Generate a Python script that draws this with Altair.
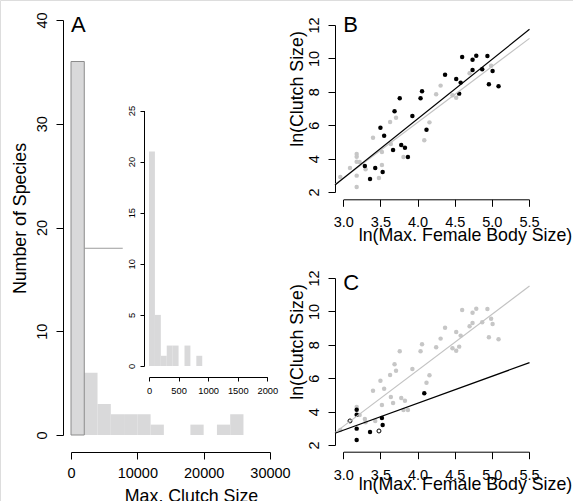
import altair as alt
import pandas as pd

FONT = "Liberation Sans"

# ---------------- Panel A: histogram of maximum clutch size ----------------
hist_start = [0, 2000, 4000, 6000, 8000, 10000, 12000, 14000, 16000, 18000, 20000, 22000, 24000]
hist_count = [36, 6, 3, 2, 2, 2, 1, 0, 0, 1, 0, 1, 2]
hist_bin = 2000

# inset: the first bin (0-2000) at finer resolution
inset_start = [0, 100, 200, 300, 400, 500, 600, 700, 800]
inset_count = [21, 5, 1, 2, 2, 0, 2, 0, 1]
inset_bin = 100

connector_x = [2000, 7800]
connector_y = [18]

a_x_ticks = [0, 10000, 20000, 30000]
a_y_ticks = [0, 10, 20, 30, 40]
inset_x_ticks = [0, 500, 1000, 1500, 2000]
inset_y_ticks = [0, 5, 10, 15, 20, 25]

# ---------------- Panels B and C: ln clutch size vs ln body size ----------------
body_size = [2.96, 3.09, 3.18, 3.18, 3.18, 3.18, 3.18, 3.22, 3.30, 3.40,
             3.48, 3.52, 3.52, 3.63, 3.71, 3.64, 3.81, 4.09, 4.16, 4.25,
             4.31, 4.47, 4.52, 4.70, 4.99,
             3.29, 3.36, 3.43, 3.53, 3.50, 3.55, 3.76, 3.69, 3.67, 3.78,
             3.83, 3.87, 3.93, 4.04, 4.06, 4.12, 4.37, 4.52, 4.58, 4.56,
             4.60, 4.74, 4.79, 4.74, 4.87, 4.94, 5.01, 4.96, 5.09]
clutch = [2.90, 3.44, 4.28, 4.11, 3.81, 2.98, 2.30, 3.80, 3.36, 5.25,
          2.84, 4.40, 3.62, 6.19, 6.45, 4.87, 4.10, 5.10, 6.17, 7.85,
          8.37, 7.79, 7.65, 9.11, 9.56,
          3.56, 2.78, 3.44, 3.20, 5.85, 5.37, 7.61, 6.83, 4.52, 4.81,
          4.65, 4.10, 6.55, 7.61, 8.03, 5.73, 9.02, 8.77, 8.55, 7.89,
          10.08, 9.92, 10.16, 9.31, 9.35, 10.14, 9.25, 8.45, 8.33]
group_b = ["gray"] * 25 + ["black"] * 29
group_c = ["gray", "open", "gray", "black", "black", "black", "black", "gray", "gray", "gray",
           "open", "gray", "black", "gray", "gray", "gray", "gray", "black", "gray", "gray",
           "gray", "gray", "gray", "gray", "gray",
           "gray", "black", "gray", "black", "gray", "gray", "gray", "gray", "gray", "gray",
           "gray", "gray", "gray", "gray", "gray", "gray", "gray", "gray", "gray", "gray",
           "gray", "gray", "gray", "gray", "gray", "gray", "gray", "gray", "gray"]

line_x = [2.888, 5.507]
b_black_line = [2.42, 11.74]
b_gray_line = [2.45, 11.20]
c_gray_line = [2.74, 11.52]
c_black_line = [2.70, 6.93]

bc_x_ticks = [3.0, 3.5, 4.0, 4.5, 5.0, 5.5]
bc_y_ticks = [2, 4, 6, 8, 10, 12]

panel_letters = ["A", "B", "C"]

# ---------------- tables ----------------
hist_df = pd.DataFrame({"start": hist_start, "count": hist_count})
hist_df["end"] = hist_df["start"] + hist_bin
hist_df["base"] = 0
inset_df = pd.DataFrame({"start": inset_start, "count": inset_count})
inset_df["end"] = inset_df["start"] + inset_bin
inset_df["base"] = 0
conn_df = pd.DataFrame({"x1": [connector_x[0]], "x2": [connector_x[1]], "y": connector_y})
pts_df = pd.DataFrame({"body": body_size, "clutch": clutch, "gb": group_b, "gc": group_c})
line_df = pd.DataFrame({"lx": line_x, "bb": b_black_line, "bg": b_gray_line,
                        "cg": c_gray_line, "cb": c_black_line})
letA_df = pd.DataFrame({"x": [0], "y": [38.8], "t": [panel_letters[0]]})
letB_df = pd.DataFrame({"x": [3.0], "y": [11.56], "t": [panel_letters[1]]})
letC_df = pd.DataFrame({"x": [3.0], "y": [11.31], "t": [panel_letters[2]]})

# ---------------- styling helpers ----------------
H = 501
FILL = "#D9D9DA"
GRAYPT = "#C6C6C6"
GRAYLN = "#C2C2C2"


def axis(orient, offset, values, tick, lab_size, lab_pad, title="", title_x=0, title_y=0, fmt="d"):
    kw = dict(orient=orient, offset=offset, values=values, tickSize=tick,
              labelFontSize=lab_size, labelPadding=lab_pad, title=title, grid=False,
              labelAlign="center", labelBaseline="alphabetic", labelFlush=False,
              labelOverlap=False, domainColor="black", tickColor="black",
              labelColor="black", labelFont=FONT, format=fmt)
    if orient == "left":
        kw.update(labelAngle=270)
    else:
        kw.update(labelAngle=0)
    if title:
        kw.update(titleX=title_x, titleY=title_y, titleFontSize=17.8, titleFont=FONT,
                  titleFontWeight="normal", titleColor="black", titleBaseline="alphabetic",
                  titleAlign="center", titleAngle=270 if orient == "left" else 0)
    return alt.Axis(**kw)


def qscale(domain, rng):
    return alt.Scale(domain=domain, range=rng, nice=False, zero=False)


# Panel A scales / axes
a_xs = qscale([a_x_ticks[0], a_x_ticks[-1]], [71, 270])
a_ys = qscale([a_y_ticks[0], a_y_ticks[-1]], [435, 20])
a_xa = axis("bottom", 452 - H, a_x_ticks, 7, 14.5, 18.5, "Max. Clutch Size", 191, 49)
a_ya = axis("left", -63, a_y_ticks, 7, 14.5, 9.3, "Number of Species", -38, 218)


def ax(f):
    return alt.X(f, type="quantitative", scale=a_xs, axis=a_xa)


def ay(f):
    return alt.Y(f, type="quantitative", scale=a_ys, axis=a_ya)


a_bars = alt.Chart(hist_df).transform_filter("datum.count > 0").mark_rect(
    fill=FILL, strokeWidth=0).encode(x=ax("start"), x2="end:Q", y=ay("count"), y2="base:Q")
a_outline = alt.Chart(hist_df).transform_filter("datum.start == 0").mark_rect(
    fill="transparent", stroke="#8C8C8C", strokeWidth=1).encode(
    x=ax("start"), x2="end:Q", y=ay("count"), y2="base:Q")
a_conn = alt.Chart(conn_df).mark_rule(color="#9C9C9C", strokeWidth=1).encode(
    x=ax("x1"), x2="x2:Q", y=ay("y"))
a_letter = alt.Chart(letA_df).mark_text(align="left", baseline="alphabetic", fontSize=22,
                                        font=FONT, color="black").encode(
    x=ax("x"), y=ay("y"), text="t:N")
panelA = alt.layer(a_bars, a_outline, a_conn, a_letter)

# Inset
i_xs = qscale([inset_x_ticks[0], inset_x_ticks[-1]], [149, 267.3])
i_ys = qscale([inset_y_ticks[0], inset_y_ticks[-1]], [366, 110.5])
i_xa = axis("bottom", 377 - H, inset_x_ticks, 4, 9.3, 12)
i_ya = axis("left", -144, inset_y_ticks, 4, 9.3, 6)
inset = alt.Chart(inset_df).transform_filter("datum.count > 0").mark_rect(
    fill=FILL, strokeWidth=0).encode(
    x=alt.X("start", type="quantitative", scale=i_xs, axis=i_xa), x2="end:Q",
    y=alt.Y("count", type="quantitative", scale=i_ys, axis=i_ya), y2="base:Q")

# Panel B
b_xs = qscale([bc_x_ticks[0], bc_x_ticks[-1]], [343.3, 529])
b_ys = qscale([bc_y_ticks[0], bc_y_ticks[-1]], [192, 25])
b_xa = axis("bottom", 199.3 - H, bc_x_ticks, 7, 14.5, 19.8, "ln(Max. Female Body Size)", 465, 41, ".1f")
b_ya = axis("left", -335, bc_y_ticks, 7, 14.5, 9.7, "ln(Clutch Size)", -33, 88.5)


def bx(f):
    return alt.X(f, type="quantitative", scale=b_xs, axis=b_xa)


def by(f):
    return alt.Y(f, type="quantitative", scale=b_ys, axis=b_ya)


pts = alt.Chart(pts_df)
b_gray = pts.transform_filter("datum.gb == 'gray'").mark_circle(
    color=GRAYPT, opacity=1, size=20).encode(x=bx("body"), y=by("clutch"))
b_black = pts.transform_filter("datum.gb == 'black'").mark_circle(
    color="black", opacity=1, size=20).encode(x=bx("body"), y=by("clutch"))
b_gline = alt.Chart(line_df).mark_line(color=GRAYLN, strokeWidth=1.2).encode(x=bx("lx"), y=by("bg"))
b_bline = alt.Chart(line_df).mark_line(color="black", strokeWidth=1.2).encode(x=bx("lx"), y=by("bb"))
b_letter = alt.Chart(letB_df).mark_text(align="left", baseline="alphabetic", fontSize=22,
                                        font=FONT, color="black").encode(
    x=bx("x"), y=by("y"), text="t:N")
panelB = alt.layer(b_gray, b_black, b_gline, b_bline, b_letter)

# Panel C
c_xs = qscale([bc_x_ticks[0], bc_x_ticks[-1]], [343.3, 529])
c_ys = qscale([bc_y_ticks[0], bc_y_ticks[-1]], [445, 278])
c_xa = axis("bottom", 451.7 - H, bc_x_ticks, 7, 14.5, 20.5, "ln(Max. Female Body Size)", 465, 38, ".1f")
c_ya = axis("left", -335, bc_y_ticks, 7, 14.5, 9.7, "ln(Clutch Size)", -33, 341.5)


def cx(f):
    return alt.X(f, type="quantitative", scale=c_xs, axis=c_xa)


def cy(f):
    return alt.Y(f, type="quantitative", scale=c_ys, axis=c_ya)


c_gray = pts.transform_filter("datum.gc == 'gray'").mark_circle(
    color=GRAYPT, opacity=1, size=20).encode(x=cx("body"), y=cy("clutch"))
c_black = pts.transform_filter("datum.gc == 'black'").mark_circle(
    color="black", opacity=1, size=20).encode(x=cx("body"), y=cy("clutch"))
c_open = pts.transform_filter("datum.gc == 'open'").mark_point(
    shape="circle", fill="white", fillOpacity=1, stroke="black", strokeWidth=1,
    opacity=1, size=16).encode(x=cx("body"), y=cy("clutch"))
c_gline = alt.Chart(line_df).mark_line(color=GRAYLN, strokeWidth=1.2).encode(x=cx("lx"), y=cy("cg"))
c_bline = alt.Chart(line_df).mark_line(color="black", strokeWidth=1.2).encode(x=cx("lx"), y=cy("cb"))
c_letter = alt.Chart(letC_df).mark_text(align="left", baseline="alphabetic", fontSize=22,
                                        font=FONT, color="black").encode(
    x=cx("x"), y=cy("y"), text="t:N")
panelC = alt.layer(c_gray, c_black, c_open, c_gline, c_bline, c_letter)

chart = alt.layer(panelA, inset, panelB, panelC).resolve_scale(
    x="independent", y="independent").resolve_axis(
    x="independent", y="independent").properties(
    width=573, height=501, padding=0,
    autosize=alt.AutoSizeParams(type="none")).configure_view(strokeWidth=0).configure(
    background="white")

chart.save("out.html", embed_options={"renderer": "svg", "actions": False})
